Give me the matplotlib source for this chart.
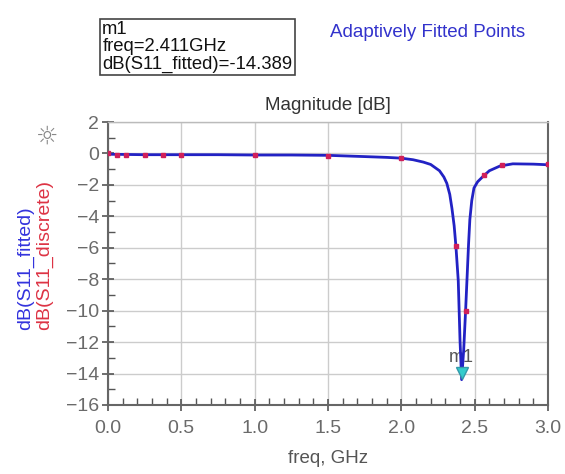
import matplotlib
matplotlib.use("Agg")
import matplotlib.pyplot as plt
from matplotlib.ticker import MultipleLocator, FormatStrFormatter

plt.rcParams['font.family'] = ['Liberation Sans', 'DejaVu Sans']

# --- data ---
# adaptively fitted curve (GHz, dB)
fit_freq = [0.0, 0.25, 0.5, 0.75, 1.0, 1.25, 1.5, 1.75, 1.9, 2.0, 2.08, 2.15, 2.2,
            2.26, 2.29, 2.31, 2.33, 2.345, 2.36, 2.372, 2.388, 2.40, 2.411, 2.425, 2.438,
            2.449, 2.458, 2.467, 2.48, 2.495, 2.52, 2.558, 2.6, 2.672, 2.76, 2.9, 3.0]
fit_db = [-0.05, -0.08, -0.08, -0.08, -0.1, -0.1, -0.12, -0.2, -0.25, -0.3, -0.4, -0.55, -0.7,
          -1.1, -1.5, -1.9, -2.6, -3.5, -4.6, -5.9, -8.1, -11.9, -14.389, -12.5, -10.0,
          -7.7, -5.8, -4.2, -3.0, -2.2, -1.8, -1.45, -1.1, -0.8, -0.66, -0.68, -0.72]

# discrete simulated points
disc_freq = [0.0, 0.0625, 0.125, 0.25, 0.375, 0.5, 1.0, 1.5, 2.0, 2.375, 2.4375, 2.5625, 2.6875, 3.0]
disc_db = [0.0, -0.1, -0.1, -0.1, -0.1, -0.1, -0.1, -0.15, -0.3, -5.9, -10.0, -1.4, -0.75, -0.65]

m1_freq = 2.411
m1_db = -14.389

fig = plt.figure(figsize=(5.65, 4.74), dpi=100)
ax = fig.add_axes([0.191, 0.1456, 0.779, 0.597])

ax.plot(fit_freq, fit_db, color='#2222c4', lw=2.0, zorder=4)
ax.plot(disc_freq, disc_db, ls='none', marker='s', ms=3.5, color='#d0205a',
        mec='#d0205a', zorder=5)

# marker m1
ax.text(m1_freq, m1_db + 1.4, 'm1', fontsize=13, color='#555555', ha='center',
        va='center', zorder=3)
ax.plot([m1_freq], [m1_db + 0.4], marker='v', ms=9, color='#33cccc',
        mec='#3399aa', ls='none', zorder=6)

ax.set_xlim(0, 3)
ax.set_ylim(-16, 2)
ax.xaxis.set_major_locator(MultipleLocator(0.5))
ax.xaxis.set_minor_locator(MultipleLocator(0.1))
ax.yaxis.set_major_locator(MultipleLocator(2))
ax.yaxis.set_minor_locator(MultipleLocator(1))
ax.xaxis.set_major_formatter(FormatStrFormatter('%.1f'))

ax.grid(True, which='major', color='#cccccc', lw=1.0)
ax.set_axisbelow(True)
ax.tick_params(which='major', direction='inout', length=9, width=1.2,
               color='#555555', labelcolor='#6a6a6a', labelsize=14)
ax.tick_params(which='minor', direction='in', length=5, width=1.0, color='#555555')
ax.tick_params(top=False, right=False, which='both')
ax.tick_params(axis='x', pad=6)
ax.tick_params(axis='y', pad=2)

for s in ['left', 'bottom', 'right']:
    ax.spines[s].set_color('#666666')
    ax.spines[s].set_linewidth(1.5)
ax.spines['top'].set_color('#bbbbbb')
ax.spines['top'].set_linewidth(1.0)

ax.set_xlabel('freq, GHz', fontsize=13.5, color='#555555', labelpad=10)
ax.set_title('Magnitude [dB]', fontsize=13.5, color='#333333', pad=9)

# two-coloured y label
fig.text(0.046, 0.303, 'dB(S11_fitted)', rotation=90, color='#3333dd', fontsize=14,
         ha='center', va='bottom')
fig.text(0.078, 0.303, 'dB(S11_discrete)', rotation=90, color='#dd3344', fontsize=14,
         ha='center', va='bottom')

# sun icon
fig.text(0.083, 0.711, '\u263c', color='#888888', fontsize=18, ha='center', va='center',
         family='DejaVu Sans')

# marker readout box
fig.text(0.181, 0.847, 'm1\nfreq=2.411GHz\ndB(S11_fitted)=-14.389', fontsize=13.3,
         color='#111111', ha='left', va='bottom', linespacing=1.02,
         bbox=dict(boxstyle='square,pad=0.12', fc='white', ec='#444444', lw=1.2))
fig.text(0.584, 0.932, 'Adaptively Fitted Points', fontsize=13.5, color='#3333cc',
         ha='left', va='center')

fig.savefig('out.png', dpi=100)
